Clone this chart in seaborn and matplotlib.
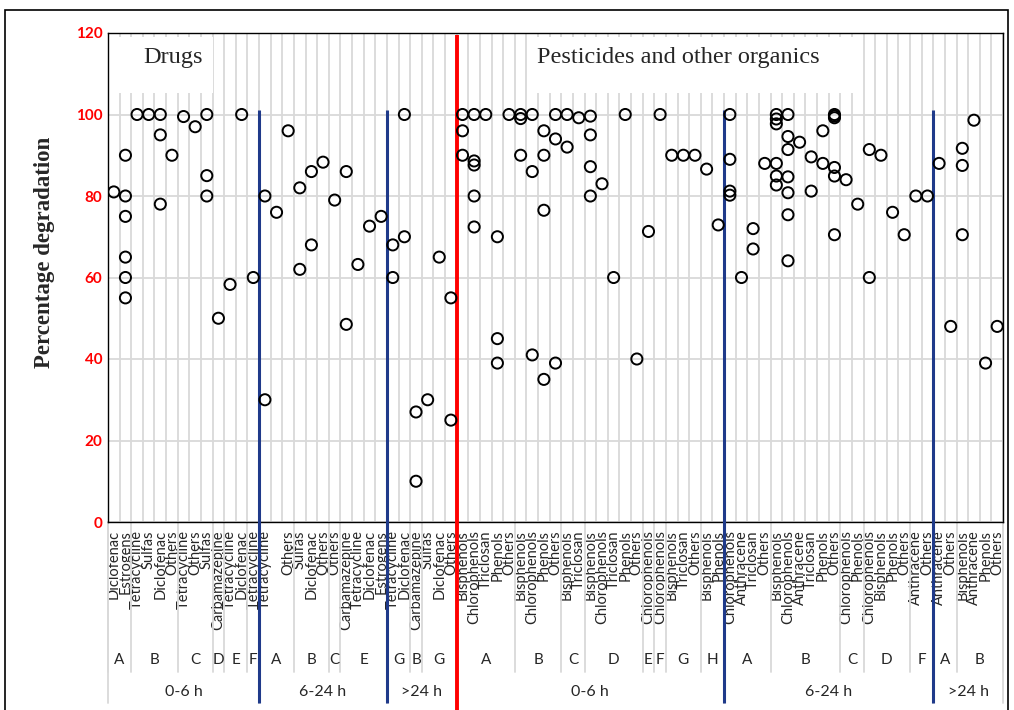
import matplotlib
matplotlib.use("Agg")
import matplotlib.pyplot as plt
from matplotlib.patches import Rectangle
import numpy as np
import pandas as pd
import seaborn as sns

# x axis, first level (one column per entry)
drug_labels = [
    "Diclofenac", "Estrogens", "Tetracycline", "Sulfas", "Diclofenac", "Others",
    "Tetracycline", "Others", "Sulfas", "Carbamazepine", "Tetracycline", "Diclofenac",
    "Tetracycline",
    "Tetracycline", "", "Others", "Sulfas", "Diclofenac", "Others", "Others",
    "Carbamazepine", "Tetracycline", "Diclofenac", "Estrogens",
    "Tetracycline", "Diclofenac", "Carbamazepine", "Sulfas", "Diclofenac", "Others",
]
organic_labels = [
    "Bisphenols", "Chlorophenols", "Triclosan", "Phenols", "Others",
    "Bisphenols", "Chlorophenols", "Phenols", "Others",
    "Bisphenols", "Triclosan",
    "Bisphenols", "Chlorophenols", "Triclosan", "Phenols", "Others",
    "Chlorophenols", "Chlorophenols", "Bisphenols", "Triclosan", "Others",
    "Bisphenols", "Phenols",
    "Chlorophenols", "Anthracene", "Triclosan", "Others",
    "Bisphenols", "Chlorophenols", "Anthracene", "Triclosan", "Phenols", "Others",
    "Chlorophenols", "Phenols",
    "Chlorophenols", "Bisphenols", "Phenols", "Others",
    "Anthracene", "Others",
    "Anthracene", "Others",
    "Bisphenols", "Anthracene", "Phenols", "Others",
]
labels = drug_labels + organic_labels

# x axis, second level (letter, number of columns)
group_letters = ["A", "B", "C", "D", "E", "F", "A", "B", "C", "E", "G", "B", "G",
                 "A", "B", "C", "D", "E", "F", "G", "H", "A", "B", "C", "D", "F", "A", "B"]
group_sizes = [2, 4, 3, 1, 2, 1, 3, 3, 1, 4, 2, 1, 3,
               5, 4, 2, 5, 1, 1, 3, 2, 4, 6, 2, 4, 2, 2, 4]

# x axis, third level
periods = ["0-6 h", "6-24 h", ">24 h", "0-6 h", "6-24 h", ">24 h"]
period_sizes = [13, 11, 6, 23, 18, 6]

# percentage degradation, one list per column
degradation = [
    [81], [90, 80, 75, 65, 60, 55], [100], [100], [100, 95, 78], [90],
    [99.5], [97], [100, 85, 80], [50], [58.3], [100], [60],
    [80, 30], [76], [96], [82, 62], [86, 68], [88.3], [79],
    [86, 48.5], [63.2], [72.6], [75],
    [68, 60], [100, 70], [27, 10], [30], [65], [55, 25],
    [100, 96, 90], [100, 88.6, 87.6, 80, 72.4], [100], [70, 45, 39], [100],
    [100, 99, 90], [100, 86, 41], [96, 90, 76.5, 35], [100, 94, 39],
    [100, 92], [99.2],
    [99.6, 95, 87.2, 80], [83], [60], [100], [40],
    [71.3], [100], [90], [90], [90],
    [86.6], [72.9],
    [100, 89, 81.2, 80.2], [60], [72, 67], [88],
    [100, 98.9, 97.7, 88, 84.9, 82.7], [100, 94.6, 91.4, 84.7, 80.8, 75.4, 64.1],
    [93.2], [89.6, 81.2], [96, 88], [100, 99.6, 99.2, 87, 84.9, 70.5],
    [84], [78],
    [91.4, 60], [90], [76], [70.5],
    [80], [80],
    [88], [48],
    [91.7, 87.5, 70.5], [98.6], [39], [48],
]

rows = [(i, v) for i, vals in enumerate(degradation) for v in vals]
df = pd.DataFrame(rows, columns=["pos", "value"])

sns.set_style("white")
plt.rcParams["font.family"] = ["Lato", "DejaVu Sans"]

W, H = 1014, 710
fig = plt.figure(figsize=(W / 100, H / 100), dpi=100)
ax = fig.add_axes([108 / W, 188 / H, 895 / W, 489 / H])

grid_c = "#d9d9d9"
navy = "#1f3a8a"
n = len(labels)

# white boxes of the two headings (they hide the gridlines)
ax.add_patch(Rectangle((0.002, 0.877), 0.115, 0.115, transform=ax.transAxes,
                       facecolor="white", edgecolor="none", zorder=1))
ax.add_patch(Rectangle((0.468, 0.877), 0.364, 0.115, transform=ax.transAxes,
                       facecolor="white", edgecolor="none", zorder=1))

sns.scatterplot(data=df, x="pos", y="value", ax=ax, marker="o", s=64,
                facecolor="none", edgecolor="black", linewidth=1.4, zorder=4)

ax.set_xlim(-0.5, n - 0.5)
ax.set_ylim(0, 120)
ax.set_xticks(np.arange(n))
ax.set_xticklabels(labels, rotation=90, fontsize=10.5)
ax.set_xticks(np.arange(-0.5, n, 1), minor=True)
ax.set_yticks(np.arange(0, 121, 20))
ax.set_yticklabels([str(t) for t in range(0, 121, 20)], color="#ff0000",
                   fontweight="bold", fontsize=11)
ax.tick_params(axis="x", which="both", length=0, pad=6)
ax.tick_params(axis="y", length=0, pad=4)
ax.set_axisbelow(True)
ax.grid(which="minor", axis="x", color=grid_c, lw=1.3)
ax.grid(which="major", axis="y", color=grid_c, lw=1.3)
ax.grid(which="major", axis="x", visible=False)
ax.set_xlabel("")
ax.set_ylabel("")
for sp in ax.spines.values():
    sp.set_color("black")
    sp.set_linewidth(1.0)

tr = ax.get_xaxis_transform()

# group separators and letters
edges = np.concatenate([[0], np.cumsum(group_sizes)]) - 0.5
for e in edges:
    ax.plot([e, e], [0, -0.307], transform=tr, color=grid_c, lw=1.3,
            clip_on=False, zorder=1)
for letter, a, b in zip(group_letters, edges[:-1], edges[1:]):
    ax.text((a + b) / 2, -0.282, letter, transform=tr, ha="center", va="center",
            fontsize=11)

# period separators and labels
pedges = np.concatenate([[0], np.cumsum(period_sizes)]) - 0.5
for e in pedges:
    ax.plot([e, e], [0, -0.37], transform=tr, color=grid_c, lw=1.3,
            clip_on=False, zorder=1)
for lab, a, b in zip(periods, pedges[:-1], pedges[1:]):
    ax.text((a + b) / 2, -0.348, lab, transform=tr, ha="center", va="center",
            fontsize=11.5)

# navy lines between periods, red line between drugs and other organics
for e in [pedges[1], pedges[2], pedges[4], pedges[5]]:
    ax.plot([e, e], [101 / 120, -0.37], transform=tr, color=navy, lw=2.2,
            clip_on=False, zorder=3, solid_capstyle="butt")
ax.plot([pedges[3], pedges[3]], [0.996, -0.42], transform=tr, color="#ff0000",
        lw=2.8, clip_on=False, zorder=3, solid_capstyle="butt")

serif = ["Liberation Serif", "DejaVu Serif"]
ax.text(0.0726, 0.949, "Drugs", transform=ax.transAxes, ha="center", va="center",
        fontsize=17.5, family=serif, zorder=5)
ax.text(0.637, 0.949, "Pesticides and other organics", transform=ax.transAxes,
        ha="center", va="center", fontsize=17.5, family=serif, zorder=5)

fig.text(45 / W, (H - 252) / H, "Percentage degradation", rotation=90,
         ha="center", va="center", fontsize=16.5, fontweight="bold", family=serif)

# outer chart frame
fig.patches.append(Rectangle((5 / W, -0.01), 1003 / W, 0.9959, transform=fig.transFigure,
                             fill=False, edgecolor="black", lw=1.2))

fig.savefig("out.png", dpi=100)
